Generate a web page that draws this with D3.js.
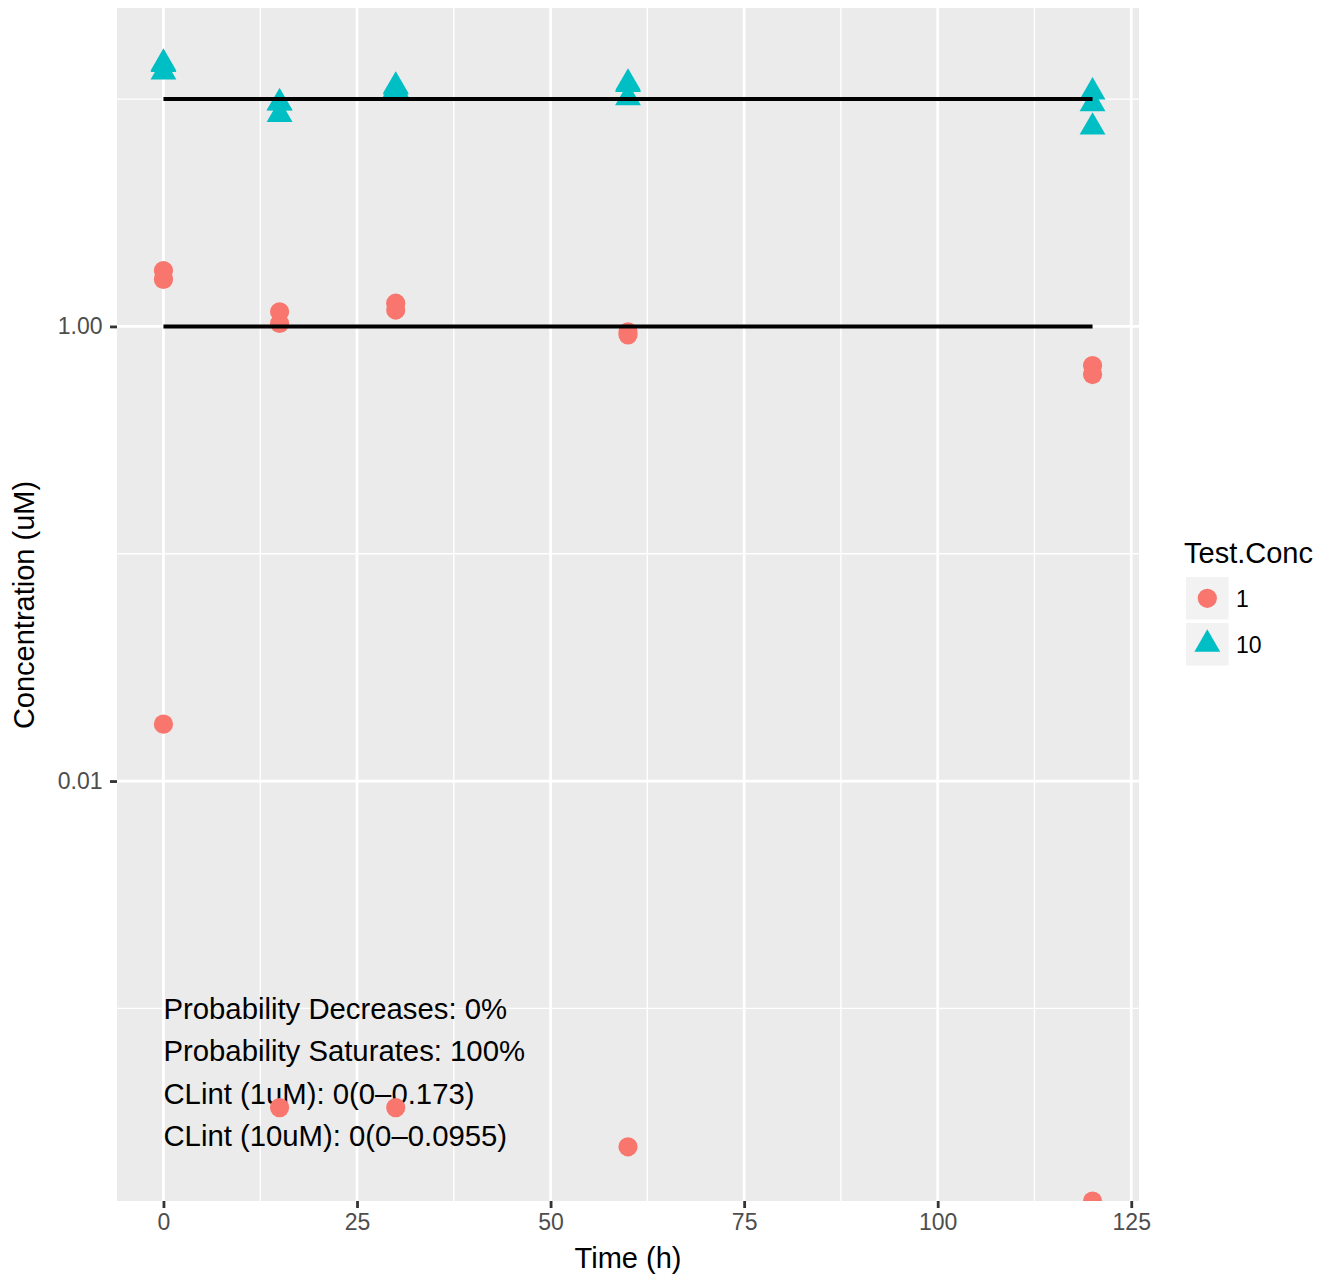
<!DOCTYPE html>
<html><head><meta charset="utf-8">
<script src="https://cdn.jsdelivr.net/npm/d3@7"></script>
<style>
body{margin:0;background:#fff}
svg{display:block}
text{font-family:"Liberation Sans", Arial, Helvetica, sans-serif}
</style>
</head><body>
<svg id="c" width="1317" height="1275"></svg>
<script>
// ---- data ----
const times = [0, 15, 30, 60, 120];
const groups = ["1", "10"];
// replicate concentrations (uM) at each time, Test.Conc = 1
const conc1 = [
  [1.76, 1.61, 0.0178],
  [1.16, 1.03, 0.000366],
  [1.265, 1.18, 0.000366],
  [0.946, 0.918, 0.000246],
  [0.673, 0.614, 0]
];
// replicate concentrations (uM) at each time, Test.Conc = 10
const conc10 = [
  [14.39, 14.2, 13.14],
  [9.63, 9.6, 8.56],
  [11.41, 11.3, 11.02],
  [11.76, 11.6, 10.13],
  [10.75, 9.54, 7.53]
];
const nominal = [1, 10];
const xTicks = [0, 25, 50, 75, 100, 125];
const xMinor = [12.5, 37.5, 62.5, 87.5, 112.5];
const yTicks = [0.01, 1];
const yTickLabels = ["0.01", "1.00"];
const yMinor = [0.001, 0.1, 10];
const notes = [
  "Probability Decreases: 0%",
  "Probability Saturates: 100%",
  "CLint (1uM): 0(0\u20130.173)",
  "CLint (10uM): 0(0\u20130.0955)"
];
const colors = ["#F8766D", "#00BFC4"];

// ---- layout ----
const svg = d3.select("#c");
const P = {left: 117, right: 1139, top: 9, bottom: 1201};

// build table
const rows = [];
[conc1, conc10].forEach((g, gi) => {
  g.forEach((reps, ti) => reps.forEach(v => rows.push({t: times[ti], v: v, g: gi})));
});

const x = d3.scaleLinear().domain([-6, 126]).range([P.left, P.right]);
const pos = rows.filter(d => d.v > 0).map(d => Math.log10(d.v));
const lo = d3.min(pos), hi = d3.max(pos), ex = (hi - lo) * 0.05;
const y = d3.scaleLog().domain([Math.pow(10, lo - ex), Math.pow(10, hi + ex)]).range([P.bottom, P.top]);
const yPos = v => v > 0 ? y(v) : P.bottom;

svg.append("rect").attr("width", 1317).attr("height", 1275).attr("fill", "#fff");
svg.append("defs").append("clipPath").attr("id", "clip")
  .append("rect").attr("x", P.left).attr("y", P.top - 1)
  .attr("width", P.right - P.left).attr("height", P.bottom - P.top + 1);

const panel = svg.append("g").attr("clip-path", "url(#clip)");
panel.append("rect").attr("x", P.left).attr("y", P.top - 1)
  .attr("width", P.right - P.left).attr("height", P.bottom - P.top + 1).attr("fill", "#EBEBEB");

// minor grid
panel.selectAll(".xm").data(xMinor).join("line")
  .attr("x1", d => x(d)).attr("x2", d => x(d)).attr("y1", P.top - 1).attr("y2", P.bottom)
  .attr("stroke", "#fff").attr("stroke-width", 1.4);
panel.selectAll(".ym").data(yMinor).join("line")
  .attr("y1", d => y(d)).attr("y2", d => y(d)).attr("x1", P.left).attr("x2", P.right)
  .attr("stroke", "#fff").attr("stroke-width", 1.4);
// major grid
panel.selectAll(".xM").data(xTicks).join("line")
  .attr("x1", d => x(d)).attr("x2", d => x(d)).attr("y1", P.top - 1).attr("y2", P.bottom)
  .attr("stroke", "#fff").attr("stroke-width", 2.8);
panel.selectAll(".yM").data(yTicks).join("line")
  .attr("y1", d => y(d)).attr("y2", d => y(d)).attr("x1", P.left).attr("x2", P.right)
  .attr("stroke", "#fff").attr("stroke-width", 2.8);

// annotation text
const noteG = panel.append("g");
noteG.selectAll("text").data(notes).join("text")
  .attr("x", x(0))
  .attr("y", (d, i) => y(0.001) + 10.8 + i * 42.3)
  .attr("font-size", 29.3).attr("fill", "#000")
  .text(d => d);

// points
const R = 9.6;
const tri = (cx, cy) => {
  const r = 1.5551 * R, xc = 1.3468 * R, yc = 0.7776 * R;
  return `M${cx},${cy - r}L${cx + xc},${cy + yc}L${cx - xc},${cy + yc}Z`;
};
panel.selectAll(".pt").data(rows).join(d => d.append("g"))
  .each(function(d) {
    const g = d3.select(this);
    const cx = x(d.t), cy = yPos(d.v);
    if (d.g === 0) g.append("circle").attr("cx", cx).attr("cy", cy).attr("r", R).attr("fill", colors[0]);
    else g.append("path").attr("d", tri(cx, cy)).attr("fill", colors[1]);
  });

// nominal lines
panel.selectAll(".nl").data(nominal).join("line")
  .attr("x1", x(d3.min(times))).attr("x2", x(d3.max(times)))
  .attr("y1", d => y(d)).attr("y2", d => y(d))
  .attr("stroke", "#000").attr("stroke-width", 4);

// axes
const xAxis = svg.append("g").attr("transform", `translate(0,${P.bottom})`)
  .call(d3.axisBottom(x).tickValues(xTicks).tickSize(7).tickPadding(6).tickFormat(d3.format("d")));
const yAxis = svg.append("g").attr("transform", `translate(${P.left},0)`)
  .call(d3.axisLeft(y).tickValues(yTicks).tickSize(7).tickPadding(7.5)
    .tickFormat((d, i) => yTickLabels[i]));
[xAxis, yAxis].forEach(a => {
  a.select(".domain").remove();
  a.selectAll(".tick line").attr("stroke", "#333333").attr("stroke-width", 2.8);
  a.selectAll(".tick text").attr("fill", "#4D4D4D").attr("font-size", 23)
    .attr("font-family", '"Liberation Sans", Arial, sans-serif');
});

// axis titles
svg.append("text").attr("x", (P.left + P.right) / 2).attr("y", 1268)
  .attr("text-anchor", "middle").attr("font-size", 29).attr("fill", "#000").text("Time (h)");
svg.append("text").attr("transform", `translate(34,${(P.top + P.bottom) / 2}) rotate(-90)`)
  .attr("text-anchor", "middle").attr("font-size", 29).attr("fill", "#000").text("Concentration (uM)");

// legend
const lg = svg.append("g");
lg.append("text").attr("x", 1184).attr("y", 563).attr("font-size", 29).attr("fill", "#000").text("Test.Conc");
groups.forEach((gname, i) => {
  const ky = 577 + i * 46;
  lg.append("rect").attr("x", 1186).attr("y", ky).attr("width", 42.5).attr("height", 42.5).attr("fill", "#F2F2F2");
  const cx = 1207.3, cy = ky + 21.3;
  if (i === 0) lg.append("circle").attr("cx", cx).attr("cy", cy).attr("r", R).attr("fill", colors[0]);
  else lg.append("path").attr("d", tri(cx, cy)).attr("fill", colors[1]);
  lg.append("text").attr("x", 1236).attr("y", cy + 8.2).attr("font-size", 23).attr("fill", "#000").text(gname);
});
</script>
</body></html>
